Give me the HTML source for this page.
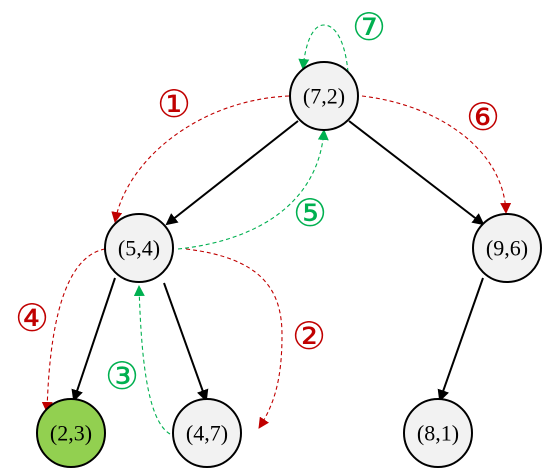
<!DOCTYPE html>
<html><head><meta charset="utf-8"><style>
html,body{margin:0;padding:0;background:#fff}
svg{display:block}
.n{font-family:"Liberation Serif",serif;font-size:22px;text-anchor:middle;dominant-baseline:central}
.l{font-family:"DejaVu Sans",sans-serif;font-size:38px;text-anchor:middle;dominant-baseline:central}
</style></head><body>
<svg width="544" height="468" viewBox="0 0 544 468">
<defs>
<marker id="ab" markerWidth="12" markerHeight="12" refX="10" refY="6" orient="auto" markerUnits="userSpaceOnUse" viewBox="0 0 12 12"><path d="M0,0L12,6L0,12z" fill="#000"/></marker>
<marker id="ar" markerWidth="11" markerHeight="11" refX="10" refY="5.5" orient="auto" markerUnits="userSpaceOnUse" viewBox="0 0 11 11"><path d="M0,0L11,5.5L0,11z" fill="#c00000"/></marker>
<marker id="ag" markerWidth="11" markerHeight="11" refX="10" refY="5.5" orient="auto" markerUnits="userSpaceOnUse" viewBox="0 0 11 11"><path d="M0,0L11,5.5L0,11z" fill="#00b050"/></marker>
</defs>
<g stroke="#000" stroke-width="2" marker-end="url(#ab)">
<line x1="298" y1="121" x2="167" y2="224"/>
<line x1="349" y1="121" x2="483" y2="224"/>
<line x1="115" y1="278" x2="74" y2="400"/>
<line x1="164" y1="283" x2="206" y2="400"/>
<line x1="483" y1="278" x2="440" y2="400"/>
</g>
<g fill="none" stroke-width="1.1" stroke-dasharray="4,3">
<path d="M289,96 C199,100 126,160 115,222" stroke="#c00000" marker-end="url(#ar)"/>
<path d="M186,249 C262,258 282,290 282,335 C282,380 274,405 259,428" stroke="#c00000" marker-end="url(#ar)"/>
<path d="M170,434 C146,420 141,350 139,286" stroke="#00b050" marker-end="url(#ag)"/>
<path d="M105,249 C73,255 50,300 47,412" stroke="#c00000" marker-end="url(#ar)"/>
<path d="M178,249 C262,240 319,200 324,130" stroke="#00b050" marker-end="url(#ag)"/>
<path d="M362,96 C439,105 504,150 506,213" stroke="#c00000" marker-end="url(#ar)"/>
<path d="M348,72 C345,40 335,25 324,25 C312,25 305,45 303,69" stroke="#00b050" marker-end="url(#ag)"/>
</g>
<g stroke="#000" stroke-width="2">
<circle cx="324" cy="96" r="34" fill="#f2f2f2"/>
<circle cx="139" cy="248" r="34" fill="#f2f2f2"/>
<circle cx="507" cy="248" r="34" fill="#f2f2f2"/>
<circle cx="71" cy="433" r="34" fill="#92d050"/>
<circle cx="207" cy="433" r="34" fill="#f2f2f2"/>
<circle cx="438" cy="433" r="34" fill="#f2f2f2"/>
</g>
<text class="n" x="324" y="96">(7,2)</text>
<text class="n" x="139" y="248">(5,4)</text>
<text class="n" x="507" y="248">(9,6)</text>
<text class="n" x="71" y="433">(2,3)</text>
<text class="n" x="207" y="433">(4,7)</text>
<text class="n" x="438" y="433">(8,1)</text>
<text class="l" x="174" y="104" fill="#c00000">①</text>
<text class="l" x="309" y="336" fill="#c00000">②</text>
<text class="l" x="122" y="376" fill="#00b050">③</text>
<text class="l" x="32" y="318" fill="#c00000">④</text>
<text class="l" x="310" y="213" fill="#00b050">⑤</text>
<text class="l" x="483" y="117" fill="#c00000">⑥</text>
<text class="l" x="369" y="27" fill="#00b050">⑦</text>
</svg>
</body></html>
